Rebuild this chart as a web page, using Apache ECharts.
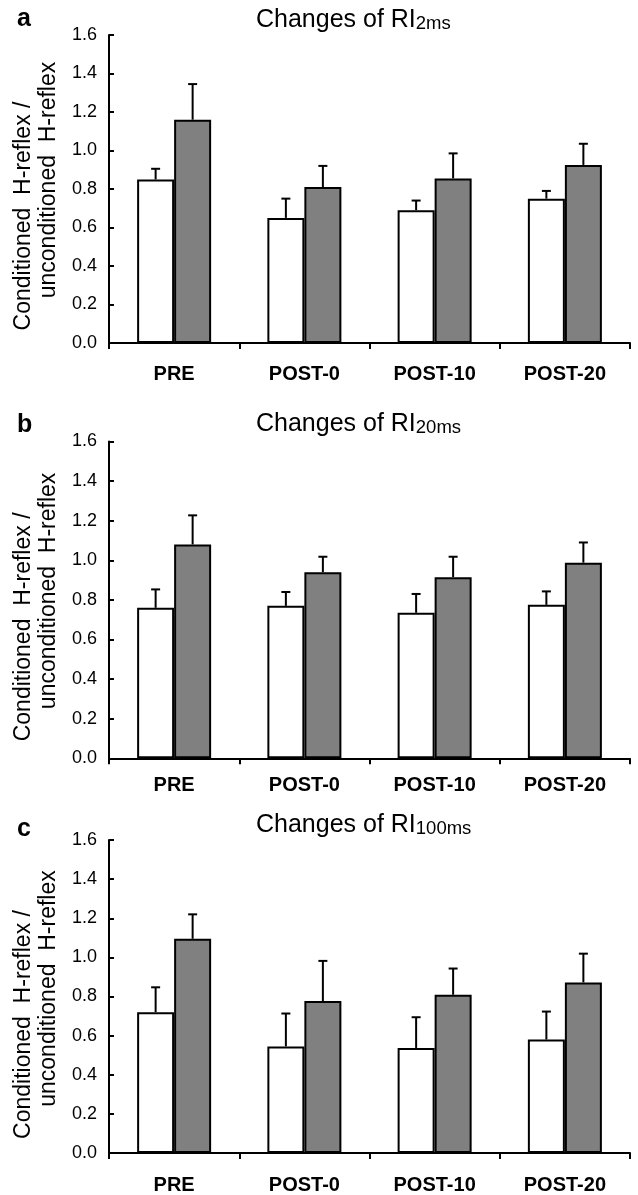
<!DOCTYPE html>
<html>
<head>
<meta charset="utf-8">
<script src="https://cdn.jsdelivr.net/npm/echarts@6/dist/echarts.min.js"></script>
<style>
html,body{margin:0;padding:0;background:#fff;}
#chart{width:638px;height:1195px;}
</style>
</head>
<body>
<div id="chart"></div>
<script>
// ---- data ----
const categories = ['PRE', 'POST-0', 'POST-10', 'POST-20'];
const panelLetters = ['a', 'b', 'c'];
const titleMain = 'Changes of RI';
const titleSubs = ['2ms', '20ms', '100ms'];
const yLabelLine1 = 'Conditioned  H-reflex /';
const yLabelLine2 = 'unconditioned  H-reflex';

// panel a (RI 2ms)
const whiteA = [0.85, 0.65, 0.69, 0.75];
const whiteErrA = [0.055, 0.10, 0.05, 0.04];
const grayA = [1.16, 0.81, 0.855, 0.925];
const grayErrA = [0.185, 0.11, 0.13, 0.11];
// panel b (RI 20ms)
const whiteB = [0.76, 0.77, 0.735, 0.775];
const whiteErrB = [0.093, 0.07, 0.095, 0.068];
const grayB = [1.08, 0.94, 0.915, 0.988];
const grayErrB = [0.147, 0.078, 0.103, 0.102];
// panel c (RI 100ms)
const whiteC = [0.72, 0.545, 0.537, 0.58];
const whiteErrC = [0.127, 0.168, 0.157, 0.143];
const grayC = [1.095, 0.777, 0.809, 0.872];
const grayErrC = [0.125, 0.205, 0.134, 0.147];

const yMin = 0, yMax = 1.6, yInterval = 0.2;

// ---- layout / style ----
const FONT = '"Liberation Sans", Arial, Helvetica, sans-serif';
const grids = [
  {top: 35, height: 308, labelMargin: 21, letterY: 19.6, titleY: 20.5},
  {top: 441.5, height: 316.8, labelMargin: 17, letterY: 425, titleY: 424.5},
  {top: 840, height: 315, labelMargin: 22, letterY: 829, titleY: 825.5}
];
const BAR_W = 37;

const panels = [
  {white: whiteA, whiteErr: whiteErrA, gray: grayA, grayErr: grayErrA},
  {white: whiteB, whiteErr: whiteErrB, gray: grayB, grayErr: grayErrB},
  {white: whiteC, whiteErr: whiteErrC, gray: grayC, grayErr: grayErrC}
];

function errRender(offset) {
  return function (params, api) {
    const i = api.value(0), m = api.value(1), e = api.value(2);
    const base = api.coord([i, m]);
    const top = api.coord([i, m + e]);
    const x = base[0] + offset;
    return {
      type: 'group',
      children: [
        {type: 'line', shape: {x1: x, y1: base[1], x2: x, y2: top[1]}, style: {stroke: '#000', lineWidth: 2}},
        {type: 'line', shape: {x1: x - 4.5, y1: top[1], x2: x + 4.5, y2: top[1]}, style: {stroke: '#000', lineWidth: 2}}
      ]
    };
  };
}

const option = {
  animation: false,
  backgroundColor: '#fff',
  grid: [], xAxis: [], yAxis: [], series: [], graphic: []
};

grids.forEach((g, k) => {
  option.grid.push({left: 109, right: 8, top: g.top, height: g.height, containLabel: false});
  option.xAxis.push({
    type: 'category', gridIndex: k, data: categories,
    axisLine: {lineStyle: {color: '#000', width: 2}},
    axisTick: {show: true, inside: false, length: 6, lineStyle: {color: '#000', width: 2}},
    axisLabel: {color: '#000', fontFamily: FONT, fontSize: 20, fontWeight: 'bold', margin: g.labelMargin, interval: 0},
    splitLine: {show: false}
  });
  option.yAxis.push({
    type: 'value', gridIndex: k, min: yMin, max: yMax, interval: yInterval,
    axisLine: {show: true, lineStyle: {color: '#000', width: 2}},
    axisTick: {show: true, inside: true, length: 5, lineStyle: {color: '#000', width: 2}},
    axisLabel: {color: '#000', fontFamily: FONT, fontSize: 18, margin: 12, formatter: v => v.toFixed(1)},
    splitLine: {show: false}
  });
  const p = panels[k];
  option.series.push({
    type: 'bar', xAxisIndex: k, yAxisIndex: k, data: p.white, barWidth: BAR_W, barGap: '0%',
    itemStyle: {color: '#ffffff', borderColor: '#000', borderWidth: 2}, z: 2
  });
  option.series.push({
    type: 'bar', xAxisIndex: k, yAxisIndex: k, data: p.gray, barWidth: BAR_W, barGap: '0%',
    itemStyle: {color: '#808080', borderColor: '#000', borderWidth: 2}, z: 2
  });
  option.series.push({
    type: 'custom', xAxisIndex: k, yAxisIndex: k, z: 3,
    renderItem: errRender(-BAR_W / 2),
    data: categories.map((c, i) => [i, p.white[i], p.whiteErr[i]])
  });
  option.series.push({
    type: 'custom', xAxisIndex: k, yAxisIndex: k, z: 3,
    renderItem: errRender(BAR_W / 2),
    data: categories.map((c, i) => [i, p.gray[i], p.grayErr[i]])
  });

  const center = g.top + g.height / 2;
  // panel letter
  option.graphic.push({
    type: 'text', x: 17, y: g.letterY,
    style: {text: panelLetters[k], fontFamily: FONT, fontSize: 25, fontWeight: 'bold', fill: '#000', align: 'left', verticalAlign: 'middle'}
  });
  // title
  option.graphic.push({
    type: 'text', x: 256, y: g.titleY,
    style: {
      text: '{m|' + titleMain + '}{s|' + titleSubs[k] + '}',
      align: 'left', verticalAlign: 'middle',
      rich: {
        m: {fontFamily: FONT, fontSize: 25, lineHeight: 25, fill: '#000', verticalAlign: 'bottom'},
        s: {fontFamily: FONT, fontSize: 18.5, lineHeight: 18.5, fill: '#000', verticalAlign: 'bottom'}
      }
    }
  });
  // y-axis name (two lines)
  option.graphic.push({
    type: 'text', x: 24, y: center + 27, rotation: Math.PI / 2,
    style: {text: yLabelLine1, fontFamily: FONT, fontSize: 23, fill: '#000', align: 'center', verticalAlign: 'middle'}
  });
  option.graphic.push({
    type: 'text', x: 49, y: center - 9, rotation: Math.PI / 2,
    style: {text: yLabelLine2, fontFamily: FONT, fontSize: 23, fill: '#000', align: 'center', verticalAlign: 'middle'}
  });
});

const chart = echarts.init(document.getElementById('chart'), null, {renderer: 'canvas'});
chart.setOption(option);
</script>
</body>
</html>
